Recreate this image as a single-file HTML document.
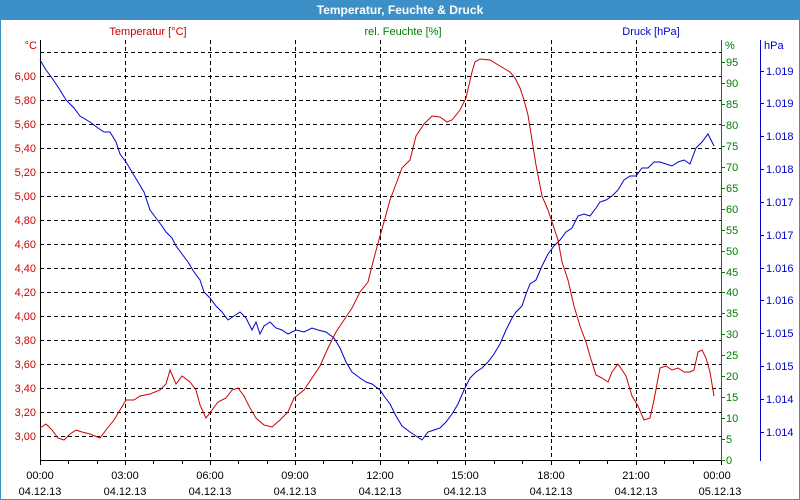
<!DOCTYPE html>
<html><head><meta charset="utf-8"><style>
html,body{margin:0;padding:0;background:#fff}
svg{display:block;font-family:"Liberation Sans",Tahoma,sans-serif}
</style></head><body>
<svg width="800" height="500" viewBox="0 0 800 500" xmlns="http://www.w3.org/2000/svg">
<rect x="0" y="0" width="800" height="500" fill="#fff"/>
<rect x="0.5" y="0.5" width="799" height="499" fill="none" stroke="#3d8fc8"/>
<rect x="0" y="0" width="800" height="20" fill="#3d8fc8"/>
<text x="400" y="14" fill="#fff" font-size="12" font-weight="bold" text-anchor="middle">Temperatur, Feuchte &amp; Druck</text>

<g stroke="#000" stroke-dasharray="4,3" stroke-width="1">
<line x1="40" x2="721" y1="52.5" y2="52.5"/><line x1="40" x2="721" y1="76.5" y2="76.5"/><line x1="40" x2="721" y1="100.5" y2="100.5"/><line x1="40" x2="721" y1="124.5" y2="124.5"/><line x1="40" x2="721" y1="148.5" y2="148.5"/><line x1="40" x2="721" y1="172.5" y2="172.5"/><line x1="40" x2="721" y1="196.5" y2="196.5"/><line x1="40" x2="721" y1="220.5" y2="220.5"/><line x1="40" x2="721" y1="244.5" y2="244.5"/><line x1="40" x2="721" y1="268.5" y2="268.5"/><line x1="40" x2="721" y1="292.5" y2="292.5"/><line x1="40" x2="721" y1="316.5" y2="316.5"/><line x1="40" x2="721" y1="340.5" y2="340.5"/><line x1="40" x2="721" y1="364.5" y2="364.5"/><line x1="40" x2="721" y1="388.5" y2="388.5"/><line x1="40" x2="721" y1="412.5" y2="412.5"/><line x1="40" x2="721" y1="436.5" y2="436.5"/>
<line y1="40" y2="460" x1="125.5" x2="125.5"/><line y1="40" y2="460" x1="210.5" x2="210.5"/><line y1="40" y2="460" x1="295.5" x2="295.5"/><line y1="40" y2="460" x1="380.5" x2="380.5"/><line y1="40" y2="460" x1="465.5" x2="465.5"/><line y1="40" y2="460" x1="551.5" x2="551.5"/><line y1="40" y2="460" x1="636.5" x2="636.5"/>
</g>

<g stroke="#000"><line x1="40.5" y1="40" x2="40.5" y2="460"/><line x1="40" y1="460.5" x2="722" y2="460.5"/></g>
<g stroke="#000" id="xt"></g>
<line x1="721.5" y1="40" x2="721.5" y2="461" stroke="#008000"/>
<line x1="760.5" y1="40" x2="760.5" y2="461" stroke="#0000cc"/>

<g font-size="11" fill="#cc0000" text-anchor="end">
<text x="37" y="49">°C</text>
<text x="36" y="80">6,00</text><text x="36" y="104">5,80</text><text x="36" y="128">5,60</text><text x="36" y="152">5,40</text><text x="36" y="176">5,20</text><text x="36" y="200">5,00</text><text x="36" y="224">4,80</text><text x="36" y="248">4,60</text><text x="36" y="272">4,40</text><text x="36" y="296">4,20</text><text x="36" y="320">4,00</text><text x="36" y="344">3,80</text><text x="36" y="368">3,60</text><text x="36" y="392">3,40</text><text x="36" y="416">3,20</text><text x="36" y="440">3,00</text>
</g>
<text x="148" y="35" font-size="11" fill="#cc0000" text-anchor="middle">Temperatur [°C]</text>
<text x="403" y="35" font-size="11" fill="#008000" text-anchor="middle">rel. Feuchte [%]</text>
<text x="651" y="35" font-size="11" fill="#0000cc" text-anchor="middle">Druck [hPa]</text>

<g font-size="11" fill="#008000" id="gl"><text x="725" y="49">%</text></g>
<g stroke="#008000" id="gt"></g>
<g font-size="11" fill="#0000cc" id="bl"><text x="764" y="49">hPa</text></g>
<g stroke="#0000cc" id="bt"></g>

<g font-size="11" fill="#000" text-anchor="middle">
<text x="40" y="479">00:00</text><text x="40" y="495">04.12.13</text>
<text x="125" y="479">03:00</text><text x="125" y="495">04.12.13</text>
<text x="210" y="479">06:00</text><text x="210" y="495">04.12.13</text>
<text x="295" y="479">09:00</text><text x="295" y="495">04.12.13</text>
<text x="380" y="479">12:00</text><text x="380" y="495">04.12.13</text>
<text x="465" y="479">15:00</text><text x="465" y="495">04.12.13</text>
<text x="551" y="479">18:00</text><text x="551" y="495">04.12.13</text>
<text x="636" y="479">21:00</text><text x="636" y="495">04.12.13</text>
<text x="717" y="479">00:00</text><text x="720" y="495">05.12.13</text>
</g>

<polyline fill="none" stroke="#0000cc" stroke-width="1" points="40,60 46,70 52,78 60,90 66,100 74,108 80,116 90,122 98,128 104,132 110,132 116,142 120,154 126,162 132,172 138,182 144,192 150,210 156,218 162,226 166,232 172,238 176,246 182,254 188,262 194,272 200,280 204,292 210,298 216,306 222,312 228,320 234,316 240,312 246,318 252,330 256,322 260,334 264,326 270,322 276,328 282,330 288,334 296,330 304,332 312,328 318,330 326,332 334,338 340,348 346,362 352,372 360,378 366,382 372,384 380,390 384,396 390,404 396,416 402,426 410,432 416,436 422,440 428,432 434,430 440,428 446,422 452,414 458,404 464,390 470,378 476,372 482,368 488,362 494,354 500,344 506,330 512,318 516,312 522,306 526,294 530,284 536,280 542,266 548,254 554,246 560,240 566,232 572,228 578,216 584,214 590,216 596,208 600,202 606,200 612,196 618,190 624,180 630,176 636,176 642,168 648,168 654,162 660,162 666,164 672,166 678,162 684,160 690,164 696,148 702,142 708,134 714,146"/>

<polyline fill="none" stroke="#cc0000" stroke-width="1" points="40,428 46,424 52,430 58,438 64,440 70,434 76,430 82,432 90,434 100,438 106,430 114,420 120,410 126,400 134,400 140,396 150,394 160,390 166,384 170,370 176,384 182,376 190,382 196,390 200,405 206,418 212,410 218,402 226,398 232,390 238,388 244,396 250,408 256,418 264,425 272,427 280,420 288,412 294,398 304,390 312,378 320,366 328,348 336,332 344,320 352,308 360,292 368,282 374,258 380,236 384,222 390,200 396,184 402,168 410,160 416,136 424,124 432,116 440,117 447,122 452,120 460,110 466,98 472,72 475,62 480,59 490,60 500,66 510,72 515,78 520,88 524,100 528,115 532,140 536,165 542,196 548,210 552,222 558,240 562,262 568,280 574,306 580,326 586,342 590,356 596,375 602,378 608,382 612,372 618,364 626,376 632,396 638,406 644,420 650,418 654,400 660,368 666,366 672,370 678,368 684,372 690,372 694,370 698,352 702,350 706,358 710,372 714,396"/>

<g id="static">
<!-- x minor ticks -->
<g stroke="#000">
<line x1="40.5" y1="460" x2="40.5" y2="465"/><line x1="68.5" y1="460" x2="68.5" y2="464"/><line x1="97.5" y1="460" x2="97.5" y2="464"/><line x1="125.5" y1="460" x2="125.5" y2="465"/><line x1="153.5" y1="460" x2="153.5" y2="464"/><line x1="182.5" y1="460" x2="182.5" y2="464"/><line x1="210.5" y1="460" x2="210.5" y2="465"/><line x1="238.5" y1="460" x2="238.5" y2="464"/><line x1="267.5" y1="460" x2="267.5" y2="464"/><line x1="295.5" y1="460" x2="295.5" y2="465"/><line x1="323.5" y1="460" x2="323.5" y2="464"/><line x1="352.5" y1="460" x2="352.5" y2="464"/><line x1="380.5" y1="460" x2="380.5" y2="465"/><line x1="408.5" y1="460" x2="408.5" y2="464"/><line x1="437.5" y1="460" x2="437.5" y2="464"/><line x1="465.5" y1="460" x2="465.5" y2="465"/><line x1="494.5" y1="460" x2="494.5" y2="464"/><line x1="522.5" y1="460" x2="522.5" y2="464"/><line x1="551.5" y1="460" x2="551.5" y2="465"/><line x1="579.5" y1="460" x2="579.5" y2="464"/><line x1="607.5" y1="460" x2="607.5" y2="464"/><line x1="636.5" y1="460" x2="636.5" y2="465"/><line x1="664.5" y1="460" x2="664.5" y2="464"/><line x1="693.5" y1="460" x2="693.5" y2="464"/><line x1="721.5" y1="460" x2="721.5" y2="465"/>
</g>
<!-- green ticks/labels -->
<g stroke="#008000">
<line x1="721" x2="725" y1="460.5" y2="460.5"/><line x1="721" x2="725" y1="439.5" y2="439.5"/><line x1="721" x2="725" y1="418.5" y2="418.5"/><line x1="721" x2="725" y1="397.5" y2="397.5"/><line x1="721" x2="725" y1="376.5" y2="376.5"/><line x1="721" x2="725" y1="355.5" y2="355.5"/><line x1="721" x2="725" y1="334.5" y2="334.5"/><line x1="721" x2="725" y1="313.5" y2="313.5"/><line x1="721" x2="725" y1="292.5" y2="292.5"/><line x1="721" x2="725" y1="272.5" y2="272.5"/><line x1="721" x2="725" y1="251.5" y2="251.5"/><line x1="721" x2="725" y1="230.5" y2="230.5"/><line x1="721" x2="725" y1="209.5" y2="209.5"/><line x1="721" x2="725" y1="188.5" y2="188.5"/><line x1="721" x2="725" y1="167.5" y2="167.5"/><line x1="721" x2="725" y1="146.5" y2="146.5"/><line x1="721" x2="725" y1="125.5" y2="125.5"/><line x1="721" x2="725" y1="104.5" y2="104.5"/><line x1="721" x2="725" y1="83.5" y2="83.5"/><line x1="721" x2="725" y1="62.5" y2="62.5"/>
</g>
<g font-size="11" fill="#008000">
<text x="726" y="464">0</text><text x="726" y="443">5</text><text x="726" y="422">10</text><text x="726" y="401">15</text><text x="726" y="380">20</text><text x="726" y="359">25</text><text x="726" y="338">30</text><text x="726" y="317">35</text><text x="726" y="296">40</text><text x="726" y="276">45</text><text x="726" y="255">50</text><text x="726" y="234">55</text><text x="726" y="213">60</text><text x="726" y="192">65</text><text x="726" y="171">70</text><text x="726" y="150">75</text><text x="726" y="129">80</text><text x="726" y="108">85</text><text x="726" y="87">90</text><text x="726" y="66">95</text>
</g>
<!-- blue ticks/labels -->
<g stroke="#0000cc">
<line x1="760" x2="764" y1="71.5" y2="71.5"/><line x1="760" x2="764" y1="103.5" y2="103.5"/><line x1="760" x2="764" y1="136.5" y2="136.5"/><line x1="760" x2="764" y1="169.5" y2="169.5"/><line x1="760" x2="764" y1="202.5" y2="202.5"/><line x1="760" x2="764" y1="235.5" y2="235.5"/><line x1="760" x2="764" y1="268.5" y2="268.5"/><line x1="760" x2="764" y1="300.5" y2="300.5"/><line x1="760" x2="764" y1="333.5" y2="333.5"/><line x1="760" x2="764" y1="366.5" y2="366.5"/><line x1="760" x2="764" y1="399.5" y2="399.5"/><line x1="760" x2="764" y1="432.5" y2="432.5"/>
</g>
<g font-size="11" fill="#0000cc">
<text x="766" y="75">1.019</text><text x="766" y="107">1.019</text><text x="766" y="140">1.018</text><text x="766" y="173">1.018</text><text x="766" y="206">1.017</text><text x="766" y="239">1.017</text><text x="766" y="272">1.016</text><text x="766" y="304">1.016</text><text x="766" y="337">1.015</text><text x="766" y="370">1.015</text><text x="766" y="403">1.014</text><text x="766" y="436">1.014</text>
</g>
</g>
</svg>
</body></html>
